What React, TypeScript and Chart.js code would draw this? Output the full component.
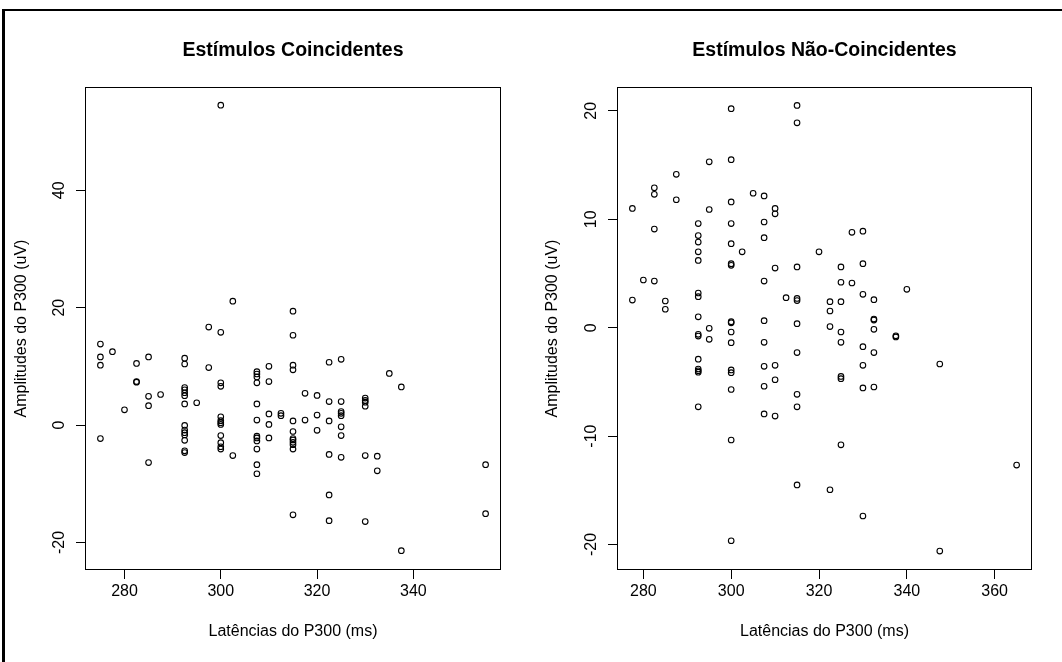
import React, { useEffect, useRef } from "react";
import { Chart, registerables } from "chart.js";

Chart.register(...registerables);

// ---- Data: Estímulos Coincidentes ----
const coincLatency = [
  302.5, 315, 315, 297.5, 300, 300, 275, 277.5, 275, 275, 282.5, 285, 292.5, 292.5, 297.5,
  315, 315, 310, 307.5, 307.5, 307.5, 307.5, 310, 282.5, 282.5, 300, 300, 285, 287.5, 285,
  280, 292.5, 292.5, 292.5, 292.5, 292.5, 295, 307.5, 310, 312.5, 312.5, 310, 307.5, 315,
  317.5, 317.5, 320, 320, 320, 275, 285, 292.5, 292.5, 292.5, 292.5, 292.5, 292.5, 292.5,
  300, 300, 300, 300, 300, 300, 300, 300, 302.5, 307.5, 307.5, 307.5, 307.5, 307.5, 307.5,
  310, 315, 315, 315, 315, 315, 315, 315, 322.5, 325, 335, 337.5, 322.5, 325, 325, 325, 325,
  322.5, 325, 325, 330, 330, 330, 330, 322.5, 325, 330, 332.5, 332.5, 322.5, 322.5, 330,
  337.5, 355, 355,
];
const coincAmplitude = [
  21.1, 19.4, 15.3, 16.7, 15.8, 54.5, 13.8, 12.5, 11.6, 10.2, 10.5, 11.6, 11.4, 10.4, 9.8,
  10.2, 9.4, 10.0, 9.1, 8.7, 8.2, 7.2, 7.4, 7.3, 7.4, 7.2, 6.6, 4.9, 5.2, 3.3,
  2.6, 6.4, 6.0, 5.5, 5.0, 3.6, 3.8, 3.6, 1.9, 2.0, 1.6, 0.1, 0.85, 0.7,
  5.4, 0.85, 5.05, 1.7, -0.9, -2.3, -6.4, -0.06, -0.85, -1.3, -1.7, -2.6, -4.4, -4.7,
  1.4, 0.74, 0.4, 0.1, -1.8, -3.0, -3.7, -4.1, -5.2, -1.9, -2.2, -2.7, -4.1, -6.75, -8.3,
  -2.2, -1.1, -2.3, -2.55, -2.95, -3.35, -4.1, -15.3, 10.7, 11.2, 8.8, 6.5, 4.0, 4.0, 2.3, 2.0, 1.6,
  0.7, -0.3, -1.8, 4.6, 4.2, 3.9, 3.2, -5.0, -5.5, -5.2, -5.3, -7.8, -11.9, -16.3, -16.45,
  -21.4, -6.75, -15.1,
];

// ---- Data: Estímulos Não-Coincidentes ----
const naoLatency = [
  300, 315, 315, 295, 300, 287.5, 282.5, 282.5, 277.5, 287.5, 295, 300, 305, 307.5, 310, 310,
  282.5, 292.5, 300, 307.5, 292.5, 292.5, 300, 307.5, 302.5, 292.5, 292.5, 300, 300, 310, 315,
  280, 282.5, 307.5, 277.5, 285, 285, 292.5, 292.5, 312.5, 315, 315, 292.5, 295, 300, 300,
  307.5, 315, 292.5, 292.5, 295, 300, 300, 307.5, 315, 292.5, 292.5, 292.5, 292.5, 300, 300,
  307.5, 310, 310, 307.5, 300, 315, 315, 292.5, 307.5, 310, 300, 315, 300,
  327.5, 330, 320, 325, 330, 325, 327.5, 340, 330, 332.5, 322.5, 325, 322.5, 332.5, 332.5,
  322.5, 332.5, 325, 337.5, 337.5, 325, 330, 332.5, 347.5, 330, 325, 325, 330, 332.5, 325,
  365, 322.5, 330, 347.5,
];
const naoAmplitude = [
  20.2, 20.5, 18.9, 15.3, 15.5, 14.15, 12.9, 12.3, 11.0, 11.8, 10.9, 11.6, 12.4, 12.15, 11.0, 10.5,
  9.1, 9.6, 9.6, 9.75, 8.5, 7.9, 7.75, 8.3, 7.0, 7.0, 6.2, 5.9, 5.75, 5.5, 5.6,
  4.4, 4.3, 4.3, 2.55, 2.46, 1.7, 3.2, 2.86, 2.77, 2.5, 2.7, 1.0, -0.06, 0.55, 0.45,
  0.65, 0.37, -0.61, -0.77, -1.07, -0.4, -1.38, -1.35, -2.3, -2.9, -3.81, -3.97, -4.1, -3.9, -4.15,
  -3.56, -3.47, -4.8, -5.4, -5.7, -6.15, -7.3, -7.3, -7.95, -8.15, -10.36, -14.5, -19.65,
  8.8, 8.9, 7.0, 5.6, 5.9, 4.19, 4.12, 3.54, 3.08, 2.58, 2.4, 2.4, 1.54, 0.8, 0.7,
  0.1, -0.15, -0.4, -0.75, -0.85, -1.35, -1.75, -2.3, -3.35, -3.47, -4.5, -4.7, -5.56, -5.47, -10.8,
  -12.67, -14.95, -17.37, -20.6,
];

// ---- Axes ----
const coincXTicks = [280, 300, 320, 340];
const coincYTicks = [-20, 0, 20, 40];
const naoXTicks = [280, 300, 320, 340, 360];
const naoYTicks = [-20, -10, 0, 10, 20];

const titleCoinc = "Estímulos Coincidentes";
const titleNao = "Estímulos Não-Coincidentes";
const xTitle = "Latências do P300 (ms)";
const yTitle = "Amplitudes do P300 (uV)";

const FONT = "'Liberation Sans', Arial, Helvetica, sans-serif";
const TICK_SIZE = 16;

type PanelProps = {
  title: string;
  xs: number[];
  ys: number[];
  xTicks: number[];
  yTicks: number[];
  xMin: number;
  xMax: number;
  yMin: number;
  yMax: number;
  yAxisWidth: number;
  left: number;
};

const boxAndLabels = (yTicks: number[]) => ({
  id: "boxAndLabels",
  afterDraw(chart: any) {
    const { ctx, chartArea } = chart;
    const { left, top, right, bottom } = chartArea;
    ctx.save();
    ctx.strokeStyle = "#000";
    ctx.lineWidth = 1;
    ctx.strokeRect(Math.round(left) + 0.5, Math.round(top) + 0.5, Math.round(right - left) - 1, Math.round(bottom - top) - 1);
    const ys = chart.scales.y;
    ctx.fillStyle = "#000";
    ctx.font = `${TICK_SIZE}px ${FONT}`;
    ctx.textAlign = "center";
    ctx.textBaseline = "middle";
    for (const v of yTicks) {
      const py = ys.getPixelForValue(v);
      ctx.save();
      ctx.translate(left - 25, py);
      ctx.rotate(-Math.PI / 2);
      ctx.fillText(String(v), 0, 0);
      ctx.restore();
    }
    ctx.restore();
  },
});

function Panel(p: PanelProps) {
  const ref = useRef<HTMLCanvasElement | null>(null);
  useEffect(() => {
    if (!ref.current) return;
    const points = p.xs.map((x, i) => ({ x, y: p.ys[i] }));
    const chart = new Chart(ref.current, {
      type: "scatter",
      data: {
        datasets: [
          {
            data: points,
            pointStyle: "circle",
            pointRadius: 2.8,
            pointBorderWidth: 1.1,
            borderColor: "#000",
            backgroundColor: "rgba(0,0,0,0)",
            showLine: false,
          },
        ],
      },
      options: {
        responsive: false,
        animation: false,
        devicePixelRatio: 1,
        layout: { padding: { top: 38.8, right: 30, left: 0, bottom: 0 } },
        plugins: {
          legend: { display: false },
          tooltip: { enabled: false },
          title: {
            display: true,
            text: p.title,
            fullSize: false,
            color: "#000",
            font: { family: FONT, size: 19.5, weight: "bold", lineHeight: 1.2 },
            padding: { top: 0, bottom: 24.8 },
          },
        },
        scales: {
          x: {
            type: "linear",
            min: p.xMin,
            max: p.xMax,
            afterFit: (s: any) => {
              s.height = 92;
            },
            afterBuildTicks: (s: any) => {
              s.ticks = p.xTicks.map((v) => ({ value: v }));
            },
            grid: { display: true, drawOnChartArea: false, drawTicks: true, tickLength: 9, color: "#000", lineWidth: 1 },
            border: { display: false },
            ticks: {
              color: "#000",
              font: { family: FONT, size: TICK_SIZE, lineHeight: 1.2 },
              padding: 2.9,
              autoSkip: false,
              maxRotation: 0,
              minRotation: 0,
              callback: (v: any) => String(v),
            },
            title: {
              display: true,
              text: xTitle,
              color: "#000",
              font: { family: FONT, size: TICK_SIZE, lineHeight: 1.2 },
              padding: { top: 0, bottom: 20.4 },
            },
          },
          y: {
            type: "linear",
            min: p.yMin,
            max: p.yMax,
            afterFit: (s: any) => {
              s.width = p.yAxisWidth;
            },
            afterBuildTicks: (s: any) => {
              s.ticks = p.yTicks.map((v) => ({ value: v }));
            },
            grid: { display: true, drawOnChartArea: false, drawTicks: true, tickLength: 9, color: "#000", lineWidth: 1 },
            border: { display: false },
            ticks: { display: false },
            title: {
              display: true,
              text: yTitle,
              color: "#000",
              font: { family: FONT, size: TICK_SIZE, lineHeight: 1.2 },
              padding: { top: 12.4, bottom: 0 },
            },
          },
        },
      },
      plugins: [boxAndLabels(p.yTicks)],
    } as any);
    return () => chart.destroy();
  }, []);
  return (
    <canvas
      ref={ref}
      width={531}
      height={662}
      style={{ position: "absolute", left: p.left, top: 0, width: 531, height: 662, display: "block" }}
    />
  );
}

export default function App() {
  return (
    <div
      style={{
        position: "fixed",
        left: 0,
        top: 0,
        width: 1062,
        height: 662,
        overflow: "hidden",
        background: "#fff",
      }}
    >
      <div
        style={{
          position: "absolute",
          left: 2,
          top: 9,
          width: 1200,
          height: 800,
          borderLeft: "3px solid #000",
          borderTop: "2px solid #000",
        }}
      />
      <Panel
        title={titleCoinc}
        xs={coincLatency}
        ys={coincAmplitude}
        xTicks={coincXTicks}
        yTicks={coincYTicks}
        xMin={271.8}
        xMax={358.2}
        yMin={-24.7}
        yMax={57.6}
        yAxisWidth={85}
        left={0}
      />
      <Panel
        title={titleNao}
        xs={naoLatency}
        ys={naoAmplitude}
        xTicks={naoXTicks}
        yTicks={naoYTicks}
        xMin={274}
        xMax={368.5}
        yMin={-22.35}
        yMax={22.2}
        yAxisWidth={86}
        left={531}
      />
    </div>
  );
}
